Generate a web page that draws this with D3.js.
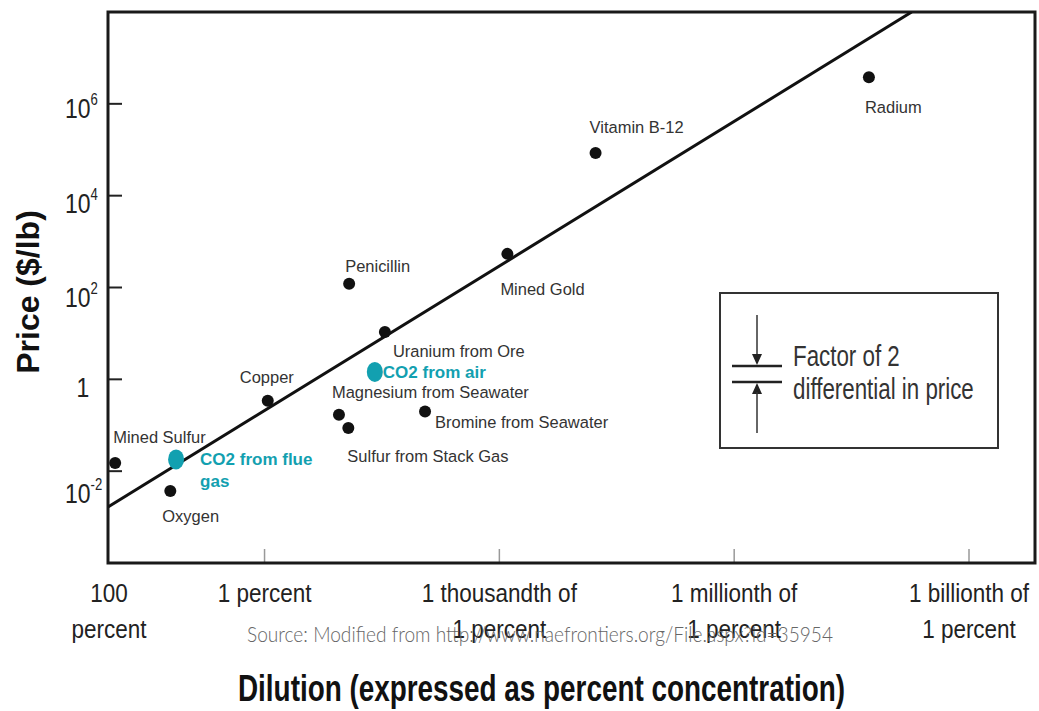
<!DOCTYPE html>
<html>
<head>
<meta charset="utf-8">
<script src="https://cdn.jsdelivr.net/npm/d3@7"></script>
<style>
  body { margin: 0; background: #fff; }
  text { font-family: "Liberation Sans", Arial, sans-serif; fill: #222; }
</style>
</head>
<body>
<div id="chart"></div>
<script>
const W = 1039, H = 711;

// data (concentration in percent, price in $/lb)
const names = ["Mined Sulfur", "Oxygen", "Copper", "Magnesium from Seawater", "Sulfur from Stack Gas",
  "Bromine from Seawater", "Uranium from Ore", "Penicillin", "Mined Gold", "Vitamin B-12", "Radium"];
const concentration = [81, 16, 0.91, 0.112, 0.085, 0.0089, 0.029, 0.083, 0.00079, 0.000059, 1.9e-8];
const price = [0.015, 0.0037, 0.34, 0.17, 0.087, 0.2, 10.7, 120, 540, 85000, 3.8e6];

const co2Names = [["CO2 from flue", "gas"], ["CO2 from air"]];
const co2Concentration = [13.5, 0.039];
const co2Price = [0.018, 1.45];

// trend line end points
const lineConcentration = [100, 5.4e-9];
const linePrice = [0.00166, 1e8];

const yTicks = [1e-2, 1, 1e2, 1e4, 1e6];
const xTicks = [100, 1, 1e-3, 1e-6, 1e-9];
const xTickLabels = [["100", "percent"], ["1 percent"], ["1 thousandth of", "1 percent"],
  ["1 millionth of", "1 percent"], ["1 billionth of", "1 percent"]];

// layout
const plot = {left: 108, right: 1035, top: 12, bottom: 563};
const labelOffsets = [[-2, -20], [-8, 31], [-28, -18], [-7, -17], [-1, 34], [10, 17],
  [8, 25], [-4, -12], [-7, 41], [-6, -20], [-4, 36]];
const co2Offsets = [[24, 6], [8, 6]];
const yLabelDrop = {"-2": 32, "0": 18, "2": 19, "4": 17, "6": 14};
const teal = "#12a0b0";

const svg = d3.select("#chart").append("svg").attr("width", W).attr("height", H);

const x = d3.scaleLog().domain([1e2, 1e-9]).range([108, 969]);
const y = d3.scaleLog().domain([1e-4, 1e8]).range([plot.bottom, plot.top]);

svg.append("clipPath").attr("id", "clip")
  .append("rect").attr("x", plot.left).attr("y", plot.top)
  .attr("width", plot.right - plot.left).attr("height", plot.bottom - plot.top);

// x ticks (inside, faint)
svg.append("g").selectAll("line").data(xTicks.slice(1)).join("line")
  .attr("x1", d => x(d)).attr("x2", d => x(d))
  .attr("y1", plot.bottom - 14).attr("y2", plot.bottom)
  .attr("stroke", "#999").attr("stroke-width", 1.5);

// y ticks
svg.append("g").selectAll("line").data(yTicks).join("line")
  .attr("x1", plot.left).attr("x2", plot.left + 14)
  .attr("y1", d => y(d)).attr("y2", d => y(d))
  .attr("stroke", "#222").attr("stroke-width", 2);

// frame
svg.append("path")
  .attr("d", `M${plot.left},${plot.top}H${plot.right}V${plot.bottom}H${plot.left}Z`)
  .attr("fill", "none").attr("stroke", "#1a1a1a").attr("stroke-width", 3);

// trend line
svg.append("line")
  .attr("clip-path", "url(#clip)")
  .attr("x1", x(lineConcentration[0])).attr("y1", y(linePrice[0]))
  .attr("x2", x(lineConcentration[1])).attr("y2", y(linePrice[1]))
  .attr("stroke", "#111").attr("stroke-width", 3);

// y tick labels
yTicks.forEach(t => {
  const p = Math.round(Math.log10(t));
  const g = svg.append("g")
    .attr("transform", `translate(${p === 0 ? 83 : 65},${y(t) + yLabelDrop[p]}) scale(0.82,1)`);
  if (p === 0) {
    g.append("text").attr("text-anchor", "middle").style("font-size", "28px").text("1");
  } else {
    const tx = g.append("text").style("font-size", "28px");
    tx.append("tspan").text("10");
    tx.append("tspan").attr("dy", -13).style("font-size", "16px").text(p);
  }
});

// x tick labels
xTickLabels.forEach((lines, i) => {
  const g = svg.append("g").attr("transform", `translate(${x(xTicks[i]) + (i === 0 ? 1 : 0)},0)`);
  lines.forEach((s, j) => {
    g.append("text")
      .attr("transform", `translate(0,${602 + j * 36}) scale(0.9,1)`)
      .attr("text-anchor", "middle").style("font-size", "25px").text(s);
  });
});

// black points
const pts = names.map((n, i) => ({name: n, c: concentration[i], p: price[i], off: labelOffsets[i]}));
svg.append("g").selectAll("circle").data(pts).join("circle")
  .attr("cx", d => x(d.c)).attr("cy", d => y(d.p)).attr("r", 6).attr("fill", "#111");

svg.append("g").selectAll("text").data(pts).join("text")
  .attr("transform", d => `translate(${x(d.c) + d.off[0]},${y(d.p) + d.off[1]}) scale(0.97,1)`)
  .style("font-size", "17px").style("fill", "#333")
  .text(d => d.name);

// CO2 points
const co2 = co2Names.map((n, i) => ({lines: n, c: co2Concentration[i], p: co2Price[i], off: co2Offsets[i]}));
svg.append("g").selectAll("ellipse").data(co2).join("ellipse")
  .attr("cx", d => x(d.c)).attr("cy", d => y(d.p)).attr("rx", 8).attr("ry", 10).attr("fill", teal);

co2.forEach(d => {
  d.lines.forEach((s, j) => {
    svg.append("text")
      .attr("x", x(d.c) + d.off[0]).attr("y", y(d.p) + d.off[1] + j * 22)
      .style("font-size", "17px").style("font-weight", "bold").style("fill", teal)
      .text(s);
  });
});

// legend box
const lg = svg.append("g");
lg.append("rect").attr("x", 720).attr("y", 293).attr("width", 278).attr("height", 155)
  .attr("fill", "#fff").attr("stroke", "#333").attr("stroke-width", 2);
lg.append("line").attr("x1", 757).attr("x2", 757).attr("y1", 315).attr("y2", 356)
  .attr("stroke", "#333").attr("stroke-width", 1.5);
lg.append("path").attr("d", "M752,354L762,354L757,365Z").attr("fill", "#222");
lg.append("line").attr("x1", 732).attr("x2", 782).attr("y1", 366).attr("y2", 366)
  .attr("stroke", "#222").attr("stroke-width", 2.5);
lg.append("line").attr("x1", 732).attr("x2", 782).attr("y1", 382).attr("y2", 382)
  .attr("stroke", "#222").attr("stroke-width", 2.5);
lg.append("path").attr("d", "M752,394L762,394L757,383Z").attr("fill", "#222");
lg.append("line").attr("x1", 757).attr("x2", 757).attr("y1", 392).attr("y2", 433)
  .attr("stroke", "#333").attr("stroke-width", 1.5);
lg.append("text").attr("transform", "translate(793,366) scale(0.77,1)")
  .style("font-size", "29px").style("fill", "#333").text("Factor of 2");
lg.append("text").attr("transform", "translate(793,399) scale(0.77,1)")
  .style("font-size", "29px").style("fill", "#333").text("differential in price");

// axis titles
svg.append("text").attr("transform", "translate(39,292) rotate(-90)")
  .attr("text-anchor", "middle").style("font-size", "32px").style("font-weight", "bold")
  .style("fill", "#111").text("Price ($/lb)");

svg.append("text").attr("x", 238).attr("y", 701)
  .attr("textLength", 607).attr("lengthAdjust", "spacingAndGlyphs")
  .style("font-size", "36px").style("font-weight", "bold").style("fill", "#111")
  .text("Dilution (expressed as percent concentration)");

// source note
svg.append("text").attr("x", 247).attr("y", 642)
  .attr("textLength", 586).attr("lengthAdjust", "spacingAndGlyphs")
  .style("font-family", "Lato, 'Open Sans', sans-serif").style("font-weight", 300)
  .style("font-size", "21px").style("fill", "#666")
  .text("Source: Modified from http://www.naefrontiers.org/File.aspx?id=35954");
</script>
</body>
</html>
